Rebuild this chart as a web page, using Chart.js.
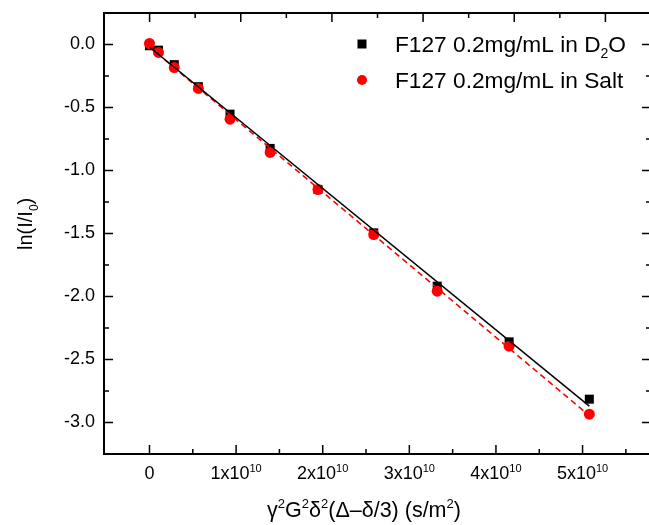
<!DOCTYPE html>
<html><head><meta charset="utf-8">
<script src="https://cdn.jsdelivr.net/npm/chart.js@4"></script>
<style>html,body{margin:0;padding:0;overflow:hidden;background:#fff}</style>
</head><body>
<canvas id="c" width="652" height="525" style="width:652px;height:525px;display:block"></canvas>
<script>
// ---- data ----
const xValues    = [0, 1.04e9, 2.86e9, 5.64e9, 9.3e9, 1.393e10, 1.945e10, 2.589e10, 3.322e10, 4.152e10, 5.078e10];
const d2oValues  = [-0.01, -0.045, -0.16, -0.335, -0.553, -0.825, -1.15, -1.495, -1.918, -2.36, -2.815];
const saltValues = [0.008, -0.063, -0.183, -0.349, -0.593, -0.857, -1.151, -1.508, -1.958, -2.394, -2.934];
const d2oFitX  = [0, 5.078e10];
const d2oFitY  = [-0.02, -2.87];
const saltFitX = [0, 5.078e10];
const saltFitY = [-0.02, -2.945];
const seriesNames = ['F127 0.2mg/mL in D|2|O', 'F127 0.2mg/mL in Salt'];

const xTickValues = [0, 1e10, 2e10, 3e10, 4e10, 5e10];
const xTickMantissa = ['0', '1x10', '2x10', '3x10', '4x10', '5x10'];
const xTickExponent = ['', '10', '10', '10', '10', '10'];
const xMinorValues = [0.5e10, 1.5e10, 2.5e10, 3.5e10, 4.5e10, 5.5e10];
const topMajorValues = [0, 1, 2, 3, 4, 5];
const topMinorValues = [0.5, 1.5, 2.5, 3.5, 4.5];
const yTickValues = [0, -0.5, -1.0, -1.5, -2.0, -2.5, -3.0];
const yTickLabels = ['0.0', '-0.5', '-1.0', '-1.5', '-2.0', '-2.5', '-3.0'];
const yMinorValues = [-0.25, -0.75, -1.25, -1.75, -2.25, -2.75];

const FONT = '"Liberation Sans", Arial, Helvetica, sans-serif';

function pts(xs, ys){ return xs.map((x,i)=>({x:x, y:ys[i]})); }

function runWidth(ctx, segs, size){
  let w=0;
  for(const [t,k] of segs){ ctx.font = (k? Math.round(size*0.62):size)+'px '+FONT; w+=ctx.measureText(t).width; }
  return w;
}
function drawRun(ctx, segs, x, y, size){
  let cx=x;
  for(const [t,k] of segs){
    const s = k? Math.round(size*0.62):size;
    ctx.font = s+'px '+FONT;
    const dy = k===1 ? -size*0.40 : (k===-1 ? size*0.28 : 0);
    ctx.fillText(t, cx, y+dy);
    cx += ctx.measureText(t).width;
  }
}

const decor = {
  id:'decor',
  afterDraw(chart){
    const ctx = chart.ctx, a = chart.chartArea;
    const xs = chart.scales.x, ys = chart.scales.y, xt = chart.scales.x2;
    ctx.save();
    ctx.strokeStyle='#000'; ctx.fillStyle='#000';
    ctx.lineWidth=2;
    ctx.strokeRect(a.left, a.top, a.right-a.left, a.bottom-a.top);
    ctx.lineWidth=1.5;
    const MAJ=9, MIN=5;
    ctx.beginPath();
    xTickValues.forEach(v=>{const p=xs.getPixelForValue(v); ctx.moveTo(p,a.bottom); ctx.lineTo(p,a.bottom-MAJ);});
    xMinorValues.forEach(v=>{const p=xs.getPixelForValue(v); ctx.moveTo(p,a.bottom); ctx.lineTo(p,a.bottom-MIN);});
    topMajorValues.forEach(v=>{const p=xt.getPixelForValue(v); ctx.moveTo(p,a.top); ctx.lineTo(p,a.top+MAJ);});
    topMinorValues.forEach(v=>{const p=xt.getPixelForValue(v); ctx.moveTo(p,a.top); ctx.lineTo(p,a.top+MIN);});
    yTickValues.forEach(v=>{const p=ys.getPixelForValue(v);
      ctx.moveTo(a.left,p); ctx.lineTo(a.left+MAJ,p); ctx.moveTo(a.right,p); ctx.lineTo(a.right-MAJ,p);});
    yMinorValues.forEach(v=>{const p=ys.getPixelForValue(v);
      ctx.moveTo(a.left,p); ctx.lineTo(a.left+MIN,p); ctx.moveTo(a.right,p); ctx.lineTo(a.right-MIN,p);});
    ctx.stroke();

    ctx.font='18px '+FONT; ctx.textAlign='right'; ctx.textBaseline='middle';
    yTickValues.forEach((v,i)=>ctx.fillText(yTickLabels[i], a.left-9, ys.getPixelForValue(v)));
    ctx.textAlign='left'; ctx.textBaseline='alphabetic';
    xTickValues.forEach((v,i)=>{
      const segs=[[xTickMantissa[i],0]]; if(xTickExponent[i]) segs.push([xTickExponent[i],1]);
      const w=runWidth(ctx,segs,18);
      drawRun(ctx,segs,xs.getPixelForValue(v)-w/2,479,18);
    });
    const xt_segs=[['\u03B3',0],['2',1],['G',0],['2',1],['\u03B4',0],['2',1],['(\u0394\u2013\u03B4/3) (s/m',0],['2',1],[')',0]];
    const tw=runWidth(ctx,xt_segs,21.5);
    drawRun(ctx,xt_segs,364-tw/2,517,21.5);
    ctx.save(); ctx.translate(32,250); ctx.rotate(-Math.PI/2);
    drawRun(ctx,[['ln(I/I',0],['0',-1],[')',0]],0,0,20);
    ctx.restore();

    const lx=362, tx=395;
    ctx.fillStyle='#000'; ctx.fillRect(lx-4.5, 44-4.5, 9, 9);
    ctx.fillStyle='#ff0000'; ctx.beginPath(); ctx.arc(lx,80,5,0,Math.PI*2); ctx.fill();
    ctx.fillStyle='#000';
    const n1=seriesNames[0].split('|');
    drawRun(ctx,[[n1[0],0],[n1[1],-1],[n1[2],0]],tx,52,22.7);
    drawRun(ctx,[[seriesNames[1],0]],tx,88,22.7);
    ctx.restore();
  }
};

new Chart(document.getElementById('c'), {
  type:'scatter',
  data:{ datasets:[
    {label:'D2O fit', type:'line', data:pts(d2oFitX,d2oFitY), borderColor:'#000', borderWidth:1.5, pointRadius:0, fill:false, order:0},
    {label:'Salt fit', type:'line', data:pts(saltFitX,saltFitY), borderColor:'#ff0000', borderWidth:1.6, borderDash:[6,4], pointRadius:0, fill:false, order:1},
    {label:seriesNames[1], data:pts(xValues,saltValues), pointStyle:'circle', pointRadius:5.5, backgroundColor:'#ff0000', borderColor:'#ff0000', borderWidth:0, order:2},
    {label:seriesNames[0], data:pts(xValues,d2oValues), pointStyle:'rect', pointRadius:6.4, backgroundColor:'#000', borderColor:'#000', borderWidth:0, order:3}
  ]},
  options:{
    responsive:false, animation:false, devicePixelRatio:1,
    layout:{autoPadding:false, padding:{left:104, top:13, right:1, bottom:71}},
    plugins:{legend:{display:false}, tooltip:{enabled:false}},
    scales:{
      x:{type:'linear', display:false, min:-0.525e10, max:5.79e10},
      x2:{type:'linear', display:false, min:-0.5, max:5.5},
      y:{type:'linear', display:false, min:-3.25, max:0.25}
    }
  },
  plugins:[decor]
});
</script>
</body></html>
